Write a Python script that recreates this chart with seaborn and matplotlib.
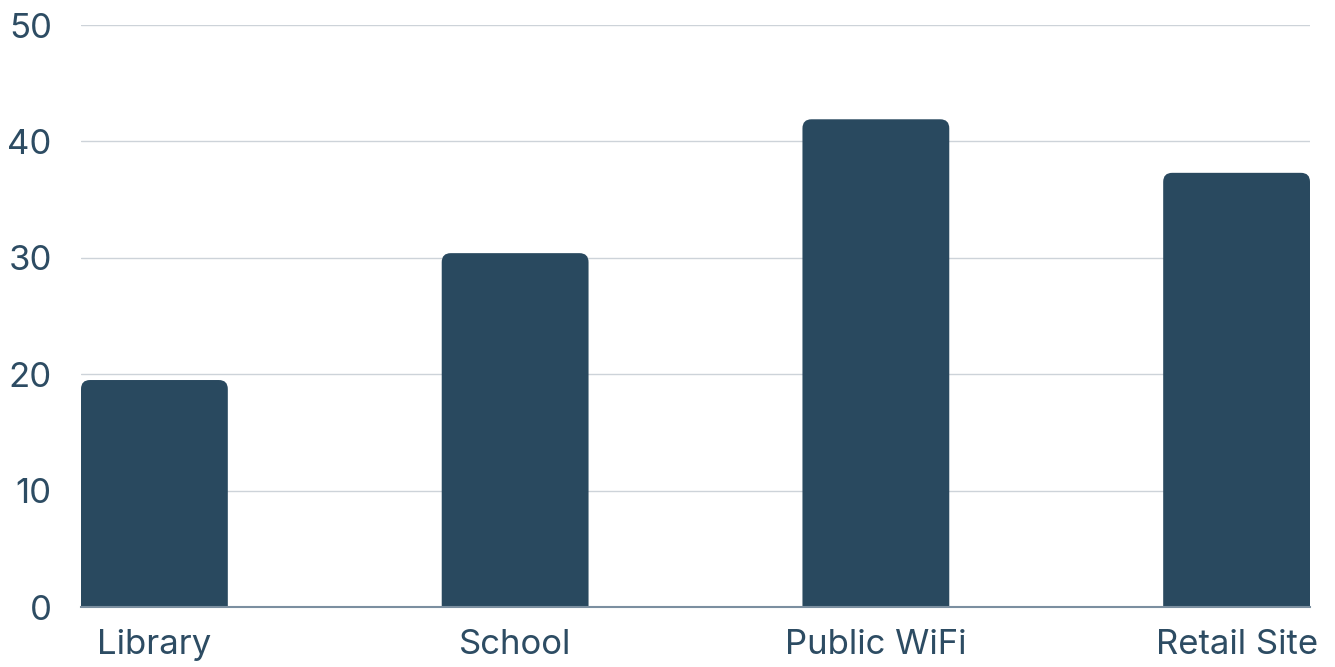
import matplotlib
matplotlib.use("Agg")
import matplotlib.pyplot as plt
import seaborn as sns
import pandas as pd
from matplotlib.patches import FancyBboxPatch

categories = ["Library", "School", "Public WiFi", "Retail Site"]
values = [19.5, 30.4, 41.9, 37.3]
y_ticks = [0, 10, 20, 30, 40, 50]

bar_color = "#29495f"
text_color = "#2d4c63"
grid_color = "#cdd3d9"

sns.set_theme(style="white")
plt.rcParams['font.family'] = ['Inter', 'DejaVu Sans']

df = pd.DataFrame({"cat": categories, "val": values})

fig = plt.figure(figsize=(13.35, 6.67), dpi=100)
ax = fig.add_axes([81/1335, 60/667, (1310-81)/1335, (607-25)/667])

sns.barplot(data=df, x="cat", y="val", color=bar_color, width=0.407,
            saturation=1, ax=ax, zorder=3)

ax.set_xlim(-0.2035, 3.2035)
ax.set_ylim(0, 50)
ax.set_yticks(y_ticks)
ax.set_yticklabels([str(t) for t in y_ticks])

# rounded top corners
ax_w_px = 1229
ax_h_px = 582
xu_per_px = 3.407 / ax_w_px
yu_per_px = 50 / ax_h_px
r_px = 9
for p in list(ax.patches):
    x0, w, h = p.get_x(), p.get_width(), p.get_height()
    p.set_visible(False)
    fb = FancyBboxPatch((x0, -2), w, h + 2,
                        boxstyle=f"round,pad=0,rounding_size={r_px * xu_per_px}",
                        mutation_aspect=yu_per_px / xu_per_px,
                        facecolor=bar_color, edgecolor="none", zorder=3,
                        clip_on=True)
    ax.add_patch(fb)

ax.grid(axis="y", color=grid_color, linewidth=1, zorder=0)
ax.grid(axis="x", visible=False)
for s in ["top", "right", "left"]:
    ax.spines[s].set_visible(False)
ax.spines["bottom"].set_color("#7b8fa0")
ax.spines["bottom"].set_linewidth(1.5)
ax.spines["bottom"].set_zorder(4)

ax.tick_params(axis="y", length=0, pad=21, labelsize=25, labelcolor=text_color)
ax.tick_params(axis="x", length=0, pad=16, labelsize=25, labelcolor=text_color)
ax.set_xlabel("")
ax.set_ylabel("")

fig.savefig("out.png", dpi=100)
